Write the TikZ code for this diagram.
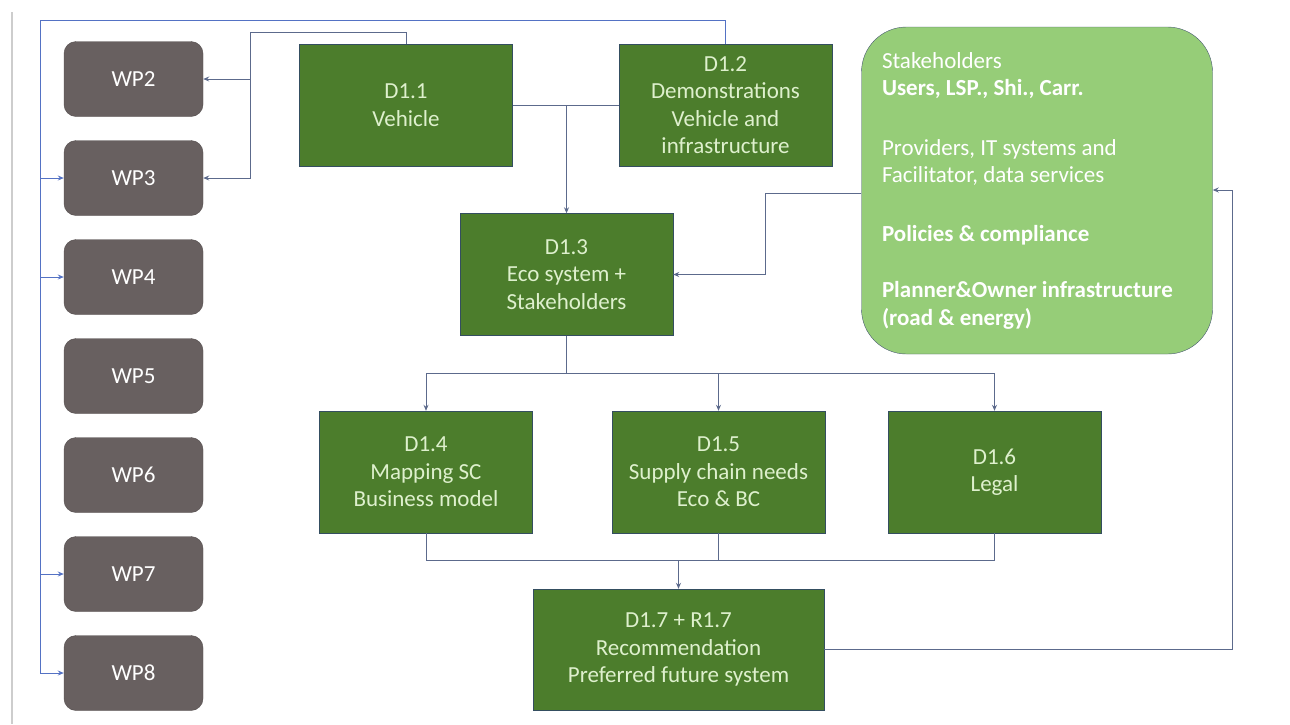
\documentclass[tikz,border=0pt]{standalone}
\usepackage{fontspec}
\setmainfont{Carlito}
\usetikzlibrary{arrows.meta}
\definecolor{wpgray}{RGB}{104,96,96}
\definecolor{wpedge}{RGB}{84,78,78}
\definecolor{dgreen}{RGB}{76,125,44}
\definecolor{dedge}{RGB}{52,78,96}
\definecolor{dtext}{RGB}{222,240,205}
\definecolor{lgreen}{RGB}{150,205,120}
\definecolor{sedge}{RGB}{70,88,112}
\definecolor{linkc}{RGB}{92,106,140}
\definecolor{busc}{RGB}{84,114,196}
\definecolor{framec}{RGB}{205,205,205}
\begin{document}
\begin{tikzpicture}[x=1pt,y=-1pt,>={Stealth[length=6pt,width=5pt]},
  every node/.style={font=\fontsize{23}{27.5}\selectfont},
  wpbox/.style={draw=wpedge,fill=wpgray,rounded corners=12pt,minimum width=139pt,minimum height=75pt,text=white},
  dbox/.style={draw=dedge,fill=dgreen,minimum width=213pt,minimum height=122pt,align=center,text=dtext},
  link/.style={linkc,line width=1pt},
  bus/.style={busc,line width=1pt}]
\useasboundingbox (0,0) rectangle (1290,724);
\draw[framec,line width=1.2pt] (12,12) -- (12,724);
% work packages
\foreach \n/\y in {2/79,3/178,4/277,5/376,6/475,7/574,8/673}
  \node[wpbox] (wp\n) at (133.5,\y) {WP\n};
% deliverables
\node[dbox] (d11) at (406,105) {D1.1\\Vehicle};
\node[dbox] (d12) at (725.5,105) {D1.2\\Demonstrations\\Vehicle and\\infrastructure};
\node[dbox] (d13) at (566.5,274.5) {D1.3\\Eco system +\\Stakeholders};
\node[dbox] (d14) at (426,472) {D1.4\\Mapping SC\\Business model};
\node[dbox] (d15) at (718.5,472) {D1.5\\Supply chain needs\\Eco \& BC};
\node[dbox] (d16) at (994.5,472) {D1.6\\Legal};
\node[dbox,minimum width=291pt,minimum height=121pt] (d17) at (678.5,649.5) {D1.7 + R1.7\\Recommendation\\Preferred future system};
% stakeholders
\node[draw=sedge,fill=lgreen,rounded corners=45pt,minimum width=351pt,minimum height=327pt,text width=310pt,align=flush left,text=white] (stake) at (1037,190.5)
  {Stakeholders\\\textbf{Users, LSP., Shi., Carr.}\\[32pt]Providers, IT systems and\\Facilitator, data services\\[31pt]\textbf{Policies \& compliance}\\[29pt]\textbf{Planner\&Owner infrastructure}\\\textbf{(road \& energy)}};
\coordinate (topbus) at (40,20);
\coordinate (midbus) at (250,32);
\coordinate (sturn) at (765,193);
\coordinate (split) at (0,373);
\coordinate (merge) at (0,560);
\coordinate (back) at (1232,190);
% D1.2 to WP3, WP4, WP7, WP8
\draw[bus,->] (d12.north) |- (topbus) |- (wp8.west);
\foreach \w in {wp3,wp4,wp7} \draw[bus,->] (topbus |- \w.west) -- (\w.west);
% D1.1 to WP2, WP3
\draw[link,->] (d11.north) |- (midbus) |- (wp3.east);
\draw[link,->] (midbus |- wp2.east) -- (wp2.east);
% D1.1 + D1.2 into D1.3
\draw[link] (d11.east) -- (d12.west);
\draw[link,->] (d11.east -| d13.north) -- (d13.north);
% stakeholders into D1.3
\draw[link,->] (stake.west |- sturn) -- (sturn) |- (d13.east);
% D1.3 to D1.4, D1.5, D1.6
\draw[link] (d13.south) -- (d13.south |- split);
\foreach \d in {d14,d15,d16} \draw[link,->] (d13.south |- split) -| (\d.north);
% merge into D1.7
\foreach \d in {d14,d15,d16} \draw[link] (\d.south) |- (d17.north |- merge);
\draw[link,->] (d17.north |- merge) -- (d17.north);
% back to stakeholders
\draw[link,->] (d17.east) -| (back) -- (stake.east |- back);
\end{tikzpicture}
\end{document}
